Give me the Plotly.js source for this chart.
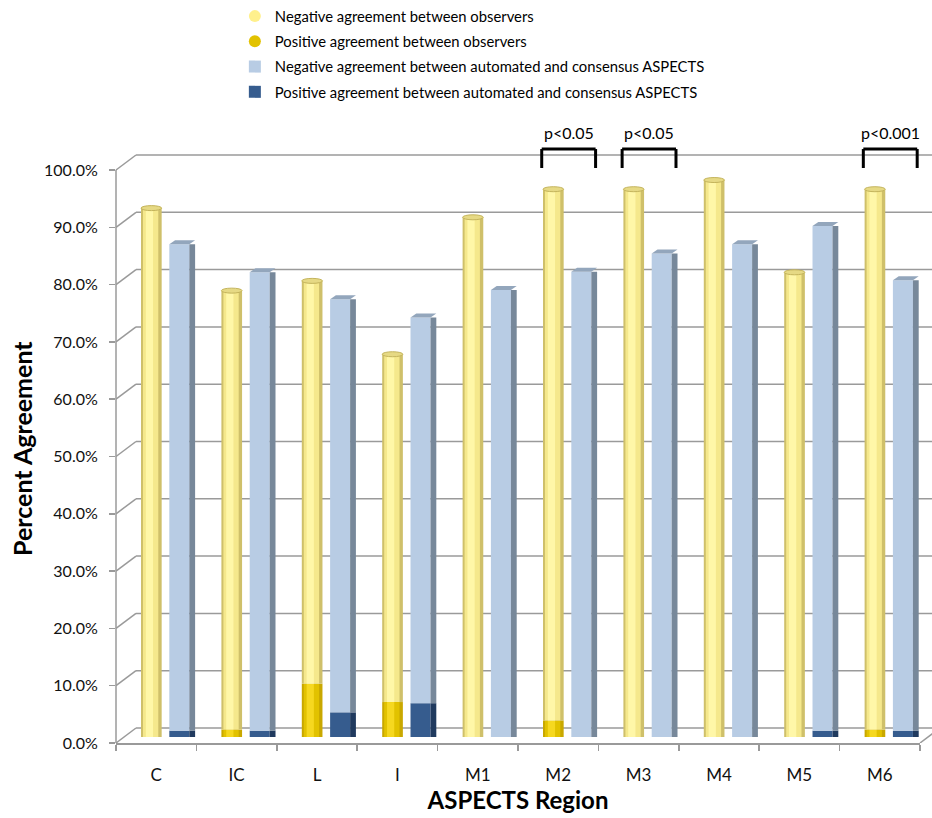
<!DOCTYPE html>
<html>
<head>
<meta charset="utf-8">
<script src="https://cdn.plot.ly/plotly-3.0.1.min.js"></script>
<style>html,body{margin:0;padding:0;background:#fff;}#chart{width:932px;height:818px;}</style>
</head>
<body>
<div id="chart"></div>
<script>
// ---- data (percent) ----
const regions = ['C','IC','L','I','M1','M2','M3','M4','M5','M6'];
const obsPos  = [0.0, 1.3, 9.3, 6.1, 0.0, 2.9, 0.0, 0.0, 0.0, 1.3];
const obsNeg  = [92.3, 76.6, 70.3, 60.7, 90.7, 92.7, 95.6, 97.2, 81.1, 94.3];
const autoPos = [1.1, 1.1, 4.3, 5.9, 0.0, 0.0, 0.0, 0.0, 1.1, 1.1];
const autoNeg = [84.9, 80.0, 72.1, 67.3, 78.0, 81.2, 84.4, 86.0, 88.1, 78.6];
const yTicks  = [0,10,20,30,40,50,60,70,80,90,100];
const yTickText = yTicks.map(v => v.toFixed(1) + '%');
const sigRegions = ['M2','M3','M6'];
const sigLabels  = ['p<0.05','p<0.05','p<0.001'];
const legendNames = [
  'Negative agreement between observers',
  'Positive agreement between observers',
  'Negative agreement between automated and consensus ASPECTS',
  'Positive agreement between automated and consensus ASPECTS'
];

// ---- geometry ----
const W = 932, H = 818;
const L = 116, R = 12, T = 120, B = 75;
const plotW = W - L - R, plotH = H - T - B;
const pxPerPct = 5.73;
const barsZeroShift = 6;
const depthX = 20, depthY = 15;
const FONT = 'Lato, "Open Sans", sans-serif';

const yRangeTicks = [0, plotH / pxPerPct];
const yRangeBars = [-barsZeroShift / pxPerPct, (plotH - barsZeroShift) / pxPerPct];
const backY = depthY / pxPerPct;
const backX = depthX / plotW;

const yo = -0.189, yw = 0.257;   // observer cylinder
const bo = 0.163, bw = 0.249;    // automated box front
const so = 0.412, sw = 0.072;    // automated box side
const topDy = 4 / pxPerPct;
const ellH = 2.5 / pxPerPct;

function bar(y, base, offset, width, color) {
  return {type:'bar', x: regions, y: y, base: base, offset: offset, width: width,
          yaxis:'y2', marker:{color: color, line:{width:0}}, showlegend:false, hoverinfo:'skip'};
}
const traces = [
  bar(obsPos, 0, yo, yw, '#C9A800'),
  bar(obsPos, 0, yo + 0.025, 0.19, '#E2C200'),
  bar(obsPos, 0, yo + 0.06, 0.09, '#F6D820'),
  bar(obsNeg, obsPos, yo, yw, '#CFC06A'),
  bar(obsNeg, obsPos, yo + 0.025, 0.19, '#F5E88C'),
  bar(obsNeg, obsPos, yo + 0.06, 0.09, '#FFF7A8'),
  bar(autoPos, 0, bo, bw, '#365C8E'),
  bar(autoPos, 0, so, sw, '#203A5E'),
  bar(autoNeg, autoPos, bo, bw, '#B8CCE4'),
  bar(autoNeg, autoPos, so, sw, '#77889A')
];
const legColors = ['#FFF08C', '#E2C200', '#B8CCE4', '#365C8E'];
const legSymbols = ['circle', 'circle', 'square', 'square'];
legendNames.forEach((n, i) => traces.push({
  type:'scatter', mode:'markers', x:[null], y:[null], name:n, yaxis:'y2', legendgroup:'g' + i,
  marker:{color: legColors[i], symbol: legSymbols[i], size: 12}, showlegend:true, hoverinfo:'skip'
}));

const shapes = [];
const gridColor = '#9A9A9A';
yTicks.forEach(v => {
  shapes.push({type:'line', xref:'paper', yref:'y', x0:0, x1:backX, y0:v, y1:v + backY,
               line:{color:gridColor, width:1.5}, layer:'below'});
  shapes.push({type:'line', xref:'paper', yref:'y', x0:backX, x1:1 + backX, y0:v + backY, y1:v + backY,
               line:{color:gridColor, width:1.5}, layer:'below'});
});
shapes.push({type:'line', xref:'paper', yref:'y', x0:0, x1:0, y0:0, y1:100, line:{color:gridColor, width:1.5}, layer:'below'});
shapes.push({type:'line', xref:'paper', yref:'y', x0:1, x1:1 + backX, y0:0, y1:backY, line:{color:gridColor, width:1.5}, layer:'below'});

regions.forEach((r, i) => {
  const tY = obsPos[i] + obsNeg[i];
  shapes.push({type:'circle', xref:'x', yref:'y2', x0:i + yo, x1:i + yo + yw, y0:tY - ellH, y1:tY + ellH,
               fillcolor:'#E6D984', line:{color:'#C4B45C', width:1}});
  const tB = autoPos[i] + autoNeg[i];
  const x0 = i + bo, x1 = i + bo + bw, x2 = i + so + sw, x3 = i + bo + sw;
  shapes.push({type:'path', xref:'x', yref:'y2',
               path:`M${x0},${tB} L${x1},${tB} L${x2},${tB + topDy} L${x3},${tB + topDy} Z`,
               fillcolor:'#93A6BC', line:{width:0}});
});

const annotations = [];
const bl = -0.205, br = 0.465, bTop = 103.66, bBot = 100.35;
sigRegions.forEach((r, k) => {
  const i = regions.indexOf(r);
  const st = {color:'#000', width:3};
  shapes.push({type:'line', xref:'x', yref:'y', x0:i + bl, x1:i + br, y0:bTop, y1:bTop, line:st});
  shapes.push({type:'line', xref:'x', yref:'y', x0:i + bl, x1:i + bl, y0:bTop, y1:bBot, line:st});
  shapes.push({type:'line', xref:'x', yref:'y', x0:i + br, x1:i + br, y0:bTop, y1:bBot, line:st});
  annotations.push({xref:'x', yref:'y', x:i + (bl + br) / 2, y:106.6, text:sigLabels[k], showarrow:false,
                    font:{family:FONT, size:16, color:'#000'}, xanchor:'center', yanchor:'middle'});
});
annotations.push({xref:'paper', yref:'paper', x:(22 - L) / plotW, y:0.472, text:'Percent Agreement',
                  textangle:-90, showarrow:false, xanchor:'center', yanchor:'middle',
                  font:{family:FONT, size:25, color:'#000', weight:700}});

const layout = {
  width: W, height: H,
  margin: {l:L, r:R, t:T, b:B, pad:0, autoexpand:false},
  paper_bgcolor:'#fff', plot_bgcolor:'rgba(0,0,0,0)',
  barmode:'overlay',
  showlegend:true,
  legend:{xref:'container', yref:'container', x:0.252, y:1.0, xanchor:'left', yanchor:'top',
          font:{family:FONT, size:14.8, color:'#000'}, bgcolor:'rgba(0,0,0,0)', itemwidth:30,
          tracegroupgap:3, traceorder:'grouped'},
  xaxis:{type:'category', range:[-0.5, 9.5], showgrid:false, zeroline:false, automargin:false,
         showline:true, linecolor:gridColor, linewidth:1.5,
         ticks:'outside', tickson:'boundaries', ticklen:6, tickcolor:gridColor, tickwidth:1.5,
         ticklabelstandoff:16, tickangle:0,
         tickfont:{family:FONT, size:17, color:'#111'},
         title:{text:'ASPECTS Region', font:{family:FONT, size:24, color:'#000', weight:700}, standoff:8}},
  yaxis:{range:yRangeTicks, showgrid:false, zeroline:false, showline:false, automargin:false,
         tickvals:yTicks, ticktext:yTickText,
         ticks:'outside', ticklen:6, tickcolor:gridColor, tickwidth:1.5, ticklabelstandoff:8,
         tickfont:{family:FONT, size:16, color:'#111'}},
  yaxis2:{overlaying:'y', range:yRangeBars, visible:false, showgrid:false, zeroline:false},
  shapes: shapes,
  annotations: annotations
};
Plotly.newPlot('chart', traces, layout, {displayModeBar:false, staticPlot:true});
</script>
</body>
</html>
